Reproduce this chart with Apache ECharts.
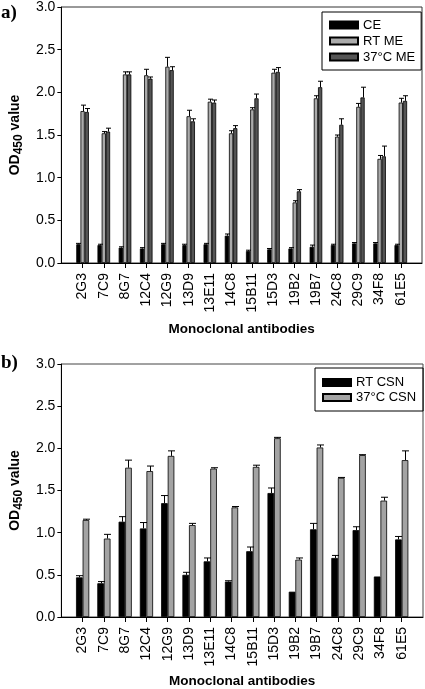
<!DOCTYPE html>
<html><head><meta charset="utf-8">
<script src="https://cdn.jsdelivr.net/npm/echarts@6/dist/echarts.min.js"></script>
<style>html,body{margin:0;padding:0;background:#fff}#c{width:425px;height:689px}</style>
</head><body><div id="c"></div>
<script>
const categories = ['2G3','7C9','8G7','12C4','12G9','13D9','13E11','14C8','15B11','15D3','19B2','19B7','24C8','29C9','34F8','61E5'];
const yTicks = [0, 0.5, 1.0, 1.5, 2.0, 2.5, 3.0];

// Panel a
const ceValues   = [0.22,0.21,0.18,0.17,0.22,0.21,0.22,0.32,0.14,0.16,0.17,0.19,0.21,0.23,0.23,0.21];
const ceErrors   = [0.01,0.01,0.01,0.01,0.01,0.01,0.01,0.02,0.01,0.01,0.01,0.02,0.01,0.01,0.01,0.01];
const rtMeValues = [1.78,1.52,2.21,2.20,2.30,1.72,1.89,1.52,1.80,2.23,0.71,1.93,1.48,1.83,1.22,1.88];
const rtMeErrors = [0.07,0.02,0.03,0.07,0.11,0.07,0.03,0.03,0.02,0.04,0.02,0.03,0.02,0.04,0.04,0.05];
const me37Values = [1.77,1.54,2.21,2.16,2.26,1.66,1.88,1.58,1.93,2.24,0.84,2.06,1.62,1.94,1.25,1.90];
const me37Errors = [0.04,0.04,0.03,0.02,0.04,0.03,0.03,0.03,0.05,0.05,0.02,0.07,0.07,0.12,0.12,0.06];

// Panel b
const rtCsnValues  = [0.47,0.40,1.13,1.05,1.35,0.50,0.66,0.42,0.78,1.47,0.30,1.04,0.70,1.03,0.48,0.92];
const rtCsnErrors  = [0.02,0.02,0.06,0.07,0.09,0.03,0.04,0.01,0.05,0.06,0,0.07,0.03,0.04,0,0.035];
const csn37Values  = [1.15,0.93,1.77,1.73,1.91,1.09,1.76,1.30,1.78,2.12,0.68,2.01,1.65,1.92,1.38,1.86];
const csn37Errors  = [0.01,0.05,0.09,0.06,0.06,0.02,0.01,0.01,0.02,0.01,0.02,0.03,0.005,0.005,0.04,0.11];

const axisCats = [''].concat(categories, ['']);
const pad = arr => [null].concat(arr, [null]);
const errData = (vals, errs) => vals.map((v, i) => [i + 1, v, errs[i]]);

function errSeries(name, xi, vals, errs, offset, capHalf) {
  return {
    type: 'custom', name: name + '_err', xAxisIndex: xi, yAxisIndex: xi, silent: true, z: 5,
    data: errData(vals, errs),
    renderItem: function (params, api) {
      const x = api.value(0), v = api.value(1), e = api.value(2);
      if (!e) return null;
      const p0 = api.coord([x, v]);
      const p1 = api.coord([x, v + e]);
      const cx = Math.round(p0[0] + offset) + 0.5;
      const st = { stroke: '#000', lineWidth: 1 };
      return { type: 'group', children: [
        { type: 'line', shape: { x1: cx, y1: p0[1], x2: cx, y2: p1[1] }, style: st },
        { type: 'line', shape: { x1: cx - capHalf, y1: p1[1], x2: cx + capHalf, y2: p1[1] }, style: st }
      ]};
    }
  };
}

function xAxis(gi) {
  return {
    type: 'category', gridIndex: gi, data: axisCats, boundaryGap: false,
    axisLine: { lineStyle: { color: '#000', width: 1 } },
    axisTick: { length: 5, interval: (i) => i > 0 && i < axisCats.length - 1, lineStyle: { color: '#000' } },
    axisLabel: { rotate: 90, interval: 0, margin: 10, fontSize: 14, color: '#000', fontFamily: 'Liberation Sans' },
    name: 'Monoclonal antibodies', nameLocation: 'middle', nameGap: gi === 0 ? 59 : 57,
    nameTextStyle: { fontSize: 13.5, fontWeight: 'bold', color: '#000', fontFamily: 'Liberation Sans' },
    splitLine: { show: false }
  };
}
function yAxis(gi) {
  return {
    type: 'value', gridIndex: gi, min: yTicks[0], max: yTicks[yTicks.length - 1], interval: 0.5,
    axisLine: { show: true, lineStyle: { color: '#000' } },
    axisTick: { show: true, length: 4, lineStyle: { color: '#000' } },
    axisLabel: { fontSize: 14, color: '#000', margin: 6, fontFamily: 'Liberation Sans', formatter: v => v.toFixed(1) },
    splitLine: { show: false },
    name: '{a|OD}{s|450}{a| value}', nameLocation: 'middle', nameGap: 34,
    nameTextStyle: { color: '#000', fontFamily: 'Liberation Sans', fontWeight: 'bold',
      rich: {
        a: { fontSize: 14, fontWeight: 'bold', lineHeight: 20, verticalAlign: 'middle', fontFamily: 'Liberation Sans', color: '#000' },
        s: { fontSize: 12, fontWeight: 'bold', lineHeight: 12, verticalAlign: 'bottom', fontFamily: 'Liberation Sans', color: '#000' }
      } }
  };
}
function bar(name, xi, vals, color, w) {
  return { type: 'bar', name: name, xAxisIndex: xi, yAxisIndex: xi, data: pad(vals), barWidth: w, barGap: '0%',
    itemStyle: { color: color, borderColor: '#000', borderWidth: 0.8 }, silent: true, z: 2 };
}

const wA = 4.2, wB = 6.6;
const chart = echarts.init(document.getElementById('c'), null, { renderer: 'canvas' });
chart.setOption({
  animation: false,
  backgroundColor: '#fff',
  grid: [
    { left: 57, right: 3, top: 5, height: 258, show: true, borderColor: '#333', borderWidth: 1, backgroundColor: 'transparent' },
    { left: 57, right: 2, top: 364, height: 258, show: true, borderColor: '#444', borderWidth: 1, backgroundColor: 'transparent' }
  ],
  xAxis: [xAxis(0), xAxis(1)],
  yAxis: [yAxis(0), yAxis(1)],
  legend: [
    { data: ['CE', 'RT ME', '37°C ME'], orient: 'vertical', left: 322, top: 12, itemWidth: 28, itemHeight: 7, itemGap: 0,
      padding: [5, 6, 5, 7], borderColor: '#000', borderWidth: 1, icon: 'rect',
      textStyle: { fontSize: 13, lineHeight: 16, color: '#000', fontFamily: 'Liberation Sans' }, selectedMode: false },
    { data: ['RT CSN', '37°C CSN'], orient: 'vertical', left: 315, top: 368, itemWidth: 28, itemHeight: 7, itemGap: 0,
      padding: [7, 7, 6, 7], borderColor: '#000', borderWidth: 1, icon: 'rect',
      textStyle: { fontSize: 13, lineHeight: 15, color: '#000', fontFamily: 'Liberation Sans' }, selectedMode: false }
  ],
  graphic: [
    { type: 'text', left: 1, top: 4, style: { text: 'a)', font: 'bold 19px "Liberation Serif"', fill: '#000' } },
    { type: 'text', left: 1, top: 354, style: { text: 'b)', font: 'bold 19px "Liberation Serif"', fill: '#000' } }
  ],
  series: [
    bar('CE', 0, ceValues, '#000', wA),
    bar('RT ME', 0, rtMeValues, '#ababab', wA),
    bar('37°C ME', 0, me37Values, '#555555', wA),
    errSeries('CE', 0, ceValues, ceErrors, -wA, 2.5),
    errSeries('RT ME', 0, rtMeValues, rtMeErrors, 0, 2.5),
    errSeries('37°C ME', 0, me37Values, me37Errors, wA, 2.5),
    bar('RT CSN', 1, rtCsnValues, '#000', wB),
    bar('37°C CSN', 1, csn37Values, '#a3a3a3', wB),
    errSeries('RT CSN', 1, rtCsnValues, rtCsnErrors, -wB / 2, 3.5),
    errSeries('37°C CSN', 1, csn37Values, csn37Errors, wB / 2, 3.5)
  ]
});
</script></body></html>
